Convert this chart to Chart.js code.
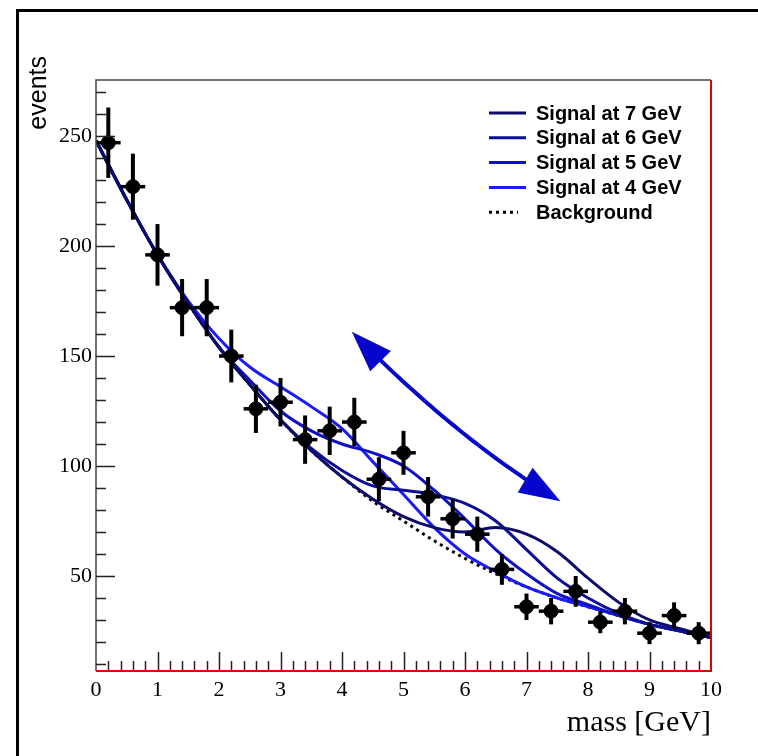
<!DOCTYPE html>
<html>
<head>
<meta charset="utf-8">
<script src="https://cdn.jsdelivr.net/npm/chart.js@4.4.1/dist/chart.umd.min.js"></script>
<style>
  html, body { margin: 0; padding: 0; background: #fff; }
  canvas { display: block; }
</style>
</head>
<body>
<canvas id="chart" width="758" height="756"></canvas>
<script>
// measured events per 0.4 GeV bin
const massBins = [0.2, 0.6, 1.0, 1.4, 1.8, 2.2, 2.6, 3.0, 3.4, 3.8, 4.2, 4.6, 5.0,
                  5.4, 5.8, 6.2, 6.6, 7.0, 7.4, 7.8, 8.2, 8.6, 9.0, 9.4, 9.8];
const events = [247, 227, 196, 172, 172, 150, 126, 129, 112, 116, 120, 94, 106,
                86, 76, 69, 53, 36, 34, 43, 29, 34, 24, 32, 24];
const eventErrors = [16, 15, 14, 13, 13, 12, 11, 11, 11, 11, 11, 10, 10,
                     9, 9, 8, 7, 6, 6, 7, 5, 6, 5, 6, 5];
const binHalfWidth = 0.2;

// model curves, sampled every 0.5 GeV
const massGrid = [0, 0.5, 1, 1.5, 2, 2.5, 3, 3.5, 4, 4.5, 5, 5.5, 6, 6.5, 7, 7.5, 8, 8.5, 9, 9.5, 10];
const background = [248, 221, 196, 174, 154, 137, 121, 107, 95, 84, 75, 66, 58, 51, 45, 40, 36, 32, 28, 25, 22];
const signal4 = [248, 221, 196, 175, 158, 145, 136, 127, 117, 102, 87, 72, 60, 52, 45, 40, 36, 32, 28, 25, 22];
const signal5 = [248, 221, 196, 174, 154, 139, 125, 116, 110, 106, 100, 89, 76, 62, 51, 42, 37, 32, 28, 25, 22];
const signal6 = [248, 221, 196, 174, 154, 137, 121, 108, 98, 91, 89, 87, 83, 75, 62, 49, 40, 33, 28, 25, 22];
const signal7 = [248, 221, 196, 174, 154, 137, 121, 107, 95, 85, 77, 72, 70, 72, 69, 61, 49, 38, 30, 26, 22];

const xTickValues = [0, 1, 2, 3, 4, 5, 6, 7, 8, 9, 10];
const yTickValues = [50, 100, 150, 200, 250];

const curve = (arr) => massGrid.map((x, i) => ({ x: x, y: arr[i] }));

function lineSet(label, arr, color, order, dash) {
  return {
    type: "line",
    label: label,
    data: curve(arr),
    borderColor: color,
    borderWidth: 3,
    borderDash: dash || [],
    pointRadius: 0,
    fill: false,
    cubicInterpolationMode: "monotone",
    order: order,
  };
}

// black error bars drawn just before the data points
const errorBars = {
  id: "errorBars",
  beforeDatasetDraw(chart, args) {
    if (args.meta.type !== "scatter") return;
    const ctx = chart.ctx, xs = chart.scales.x, ys = chart.scales.y;
    ctx.save();
    ctx.strokeStyle = "#000";
    massBins.forEach((m, i) => {
      const px = xs.getPixelForValue(m), py = ys.getPixelForValue(events[i]);
      ctx.lineWidth = 4;
      ctx.beginPath();
      ctx.moveTo(px, ys.getPixelForValue(events[i] - eventErrors[i]));
      ctx.lineTo(px, ys.getPixelForValue(events[i] + eventErrors[i]));
      ctx.stroke();
      ctx.lineWidth = 3.5;
      ctx.beginPath();
      ctx.moveTo(xs.getPixelForValue(m - binHalfWidth), py);
      ctx.lineTo(xs.getPixelForValue(m + binHalfWidth), py);
      ctx.stroke();
    });
    ctx.restore();
  },
};

const decorations = {
  id: "decorations",
  beforeDraw(chart) {
    const ctx = chart.ctx;
    ctx.save();
    ctx.fillStyle = "#fff";
    ctx.fillRect(0, 0, chart.width, chart.height);
    ctx.strokeStyle = "#000";
    ctx.lineWidth = 3;
    ctx.beginPath();
    ctx.moveTo(17.5, 800);
    ctx.lineTo(17.5, 10.5);
    ctx.lineTo(800, 10.5);
    ctx.stroke();
    ctx.restore();
  },
  afterDraw(chart) {
    const ctx = chart.ctx, xs = chart.scales.x, ys = chart.scales.y;
    const { left, right, top, bottom } = chart.chartArea;
    ctx.save();

    // frame
    ctx.lineWidth = 1.5;
    ctx.strokeStyle = "#444";
    ctx.beginPath();
    ctx.moveTo(left, bottom);
    ctx.lineTo(left, top);
    ctx.lineTo(right, top);
    ctx.stroke();
    ctx.strokeStyle = "#e00000";
    ctx.lineWidth = 2;
    ctx.beginPath();
    ctx.moveTo(right, top);
    ctx.lineTo(right, bottom);
    ctx.lineTo(left, bottom);
    ctx.stroke();

    // inner ticks
    ctx.strokeStyle = "#222";
    ctx.lineWidth = 1.5;
    ctx.beginPath();
    for (let v = 10; v <= 270; v += 10) {
      const py = Math.round(ys.getPixelForValue(v)) + 0.5;
      ctx.moveTo(left, py);
      ctx.lineTo(left + (v % 50 === 0 ? 19 : 10), py);
    }
    for (let i = 1; i < 50; i++) {
      const px = Math.round(xs.getPixelForValue(i * 0.2)) + 0.5;
      ctx.moveTo(px, bottom - 1);
      ctx.lineTo(px, bottom - 1 - (i % 5 === 0 ? 18 : 9));
    }
    ctx.stroke();

    // axis titles
    ctx.fillStyle = "#000";
    ctx.font = "30px 'Liberation Serif'";
    ctx.textAlign = "right";
    ctx.textBaseline = "alphabetic";
    ctx.fillText("mass [GeV]", right, 731);
    ctx.save();
    ctx.translate(46, 56);
    ctx.rotate(-Math.PI / 2);
    ctx.font = "25px 'Liberation Sans'";
    ctx.fillText("events", 0, 0);
    ctx.restore();

    // legend
    const entries = chart.data.datasets.filter((d) => d.type === "line").slice().sort((a, b) => a.order - b.order);
    ctx.font = "bold 20px 'Liberation Sans'";
    ctx.textAlign = "left";
    ctx.textBaseline = "middle";
    entries.forEach((d, i) => {
      const y = 113 + i * 24.8;
      ctx.strokeStyle = d.borderColor;
      ctx.lineWidth = 3;
      ctx.setLineDash(d.borderDash);
      ctx.beginPath();
      ctx.moveTo(489, y);
      ctx.lineTo(d.borderDash.length ? 518 : 526, y);
      ctx.stroke();
      ctx.setLineDash([]);
      ctx.fillStyle = "#000";
      ctx.fillText(d.label, 536, y + 1);
    });

    // double headed arrow
    const A = [xs.getPixelForValue(4.16), ys.getPixelForValue(161)];
    const C = [xs.getPixelForValue(5.88), ys.getPixelForValue(112)];
    const B = [xs.getPixelForValue(7.55), ys.getPixelForValue(84)];
    const q = (t) => [
      (1 - t) * (1 - t) * A[0] + 2 * t * (1 - t) * C[0] + t * t * B[0],
      (1 - t) * (1 - t) * A[1] + 2 * t * (1 - t) * C[1] + t * t * B[1],
    ];
    ctx.strokeStyle = "#0505cc";
    ctx.fillStyle = "#0505cc";
    ctx.lineWidth = 4;
    ctx.beginPath();
    for (let t = 0.1; t <= 0.9001; t += 0.02) {
      const p = q(t);
      if (t < 0.11) ctx.moveTo(p[0], p[1]); else ctx.lineTo(p[0], p[1]);
    }
    ctx.stroke();
    const head = (tip, ctrl) => {
      const dx = tip[0] - ctrl[0], dy = tip[1] - ctrl[1];
      const len = Math.hypot(dx, dy), ux = dx / len, uy = dy / len;
      const bx = tip[0] - ux * 41, by = tip[1] - uy * 41;
      ctx.beginPath();
      ctx.moveTo(tip[0], tip[1]);
      ctx.lineTo(bx - uy * 14.5, by + ux * 14.5);
      ctx.lineTo(bx + uy * 14.5, by - ux * 14.5);
      ctx.closePath();
      ctx.fill();
    };
    head(A, C);
    head(B, C);
    ctx.restore();
  },
};

new Chart(document.getElementById("chart"), {
  type: "scatter",
  data: {
    datasets: [
      {
        type: "scatter",
        label: "Data",
        data: massBins.map((m, i) => ({ x: m, y: events[i] })),
        backgroundColor: "#000",
        borderColor: "#000",
        pointRadius: 7,
        pointHoverRadius: 7,
        order: 0,
      },
      lineSet("Signal at 7 GeV", signal7, "#0b0b6b", 1),
      lineSet("Signal at 6 GeV", signal6, "#0d0d99", 2),
      lineSet("Signal at 5 GeV", signal5, "#0f0fc4", 3),
      lineSet("Signal at 4 GeV", signal4, "#1a1aff", 4),
      lineSet("Background", background, "#000", 5, [3, 4]),
    ],
  },
  options: {
    responsive: false,
    devicePixelRatio: 1,
    animation: false,
    layout: { padding: { left: 0, right: 47, top: 80, bottom: 0 } },
    plugins: { legend: { display: false }, tooltip: { enabled: false } },
    scales: {
      x: {
        type: "linear",
        min: 0,
        max: 10,
        grid: { display: false, drawTicks: false },
        border: { display: false },
        ticks: {
          font: { family: "Liberation Serif", size: 22 },
          color: "#000",
          padding: 6,
          maxRotation: 0,
          autoSkip: false,
        },
        afterBuildTicks: (s) => { s.ticks = xTickValues.map((v) => ({ value: v })); },
        afterFit: (s) => { s.height = 85; },
      },
      y: {
        type: "linear",
        min: 6.8,
        max: 275.5,
        grid: { display: false, drawTicks: false },
        border: { display: false },
        ticks: {
          font: { family: "Liberation Serif", size: 22 },
          color: "#000",
          padding: 4,
          autoSkip: false,
        },
        afterBuildTicks: (s) => { s.ticks = yTickValues.map((v) => ({ value: v })); },
        afterFit: (s) => { s.width = 96; },
      },
    },
  },
  plugins: [errorBars, decorations],
});
</script>
</body>
</html>
